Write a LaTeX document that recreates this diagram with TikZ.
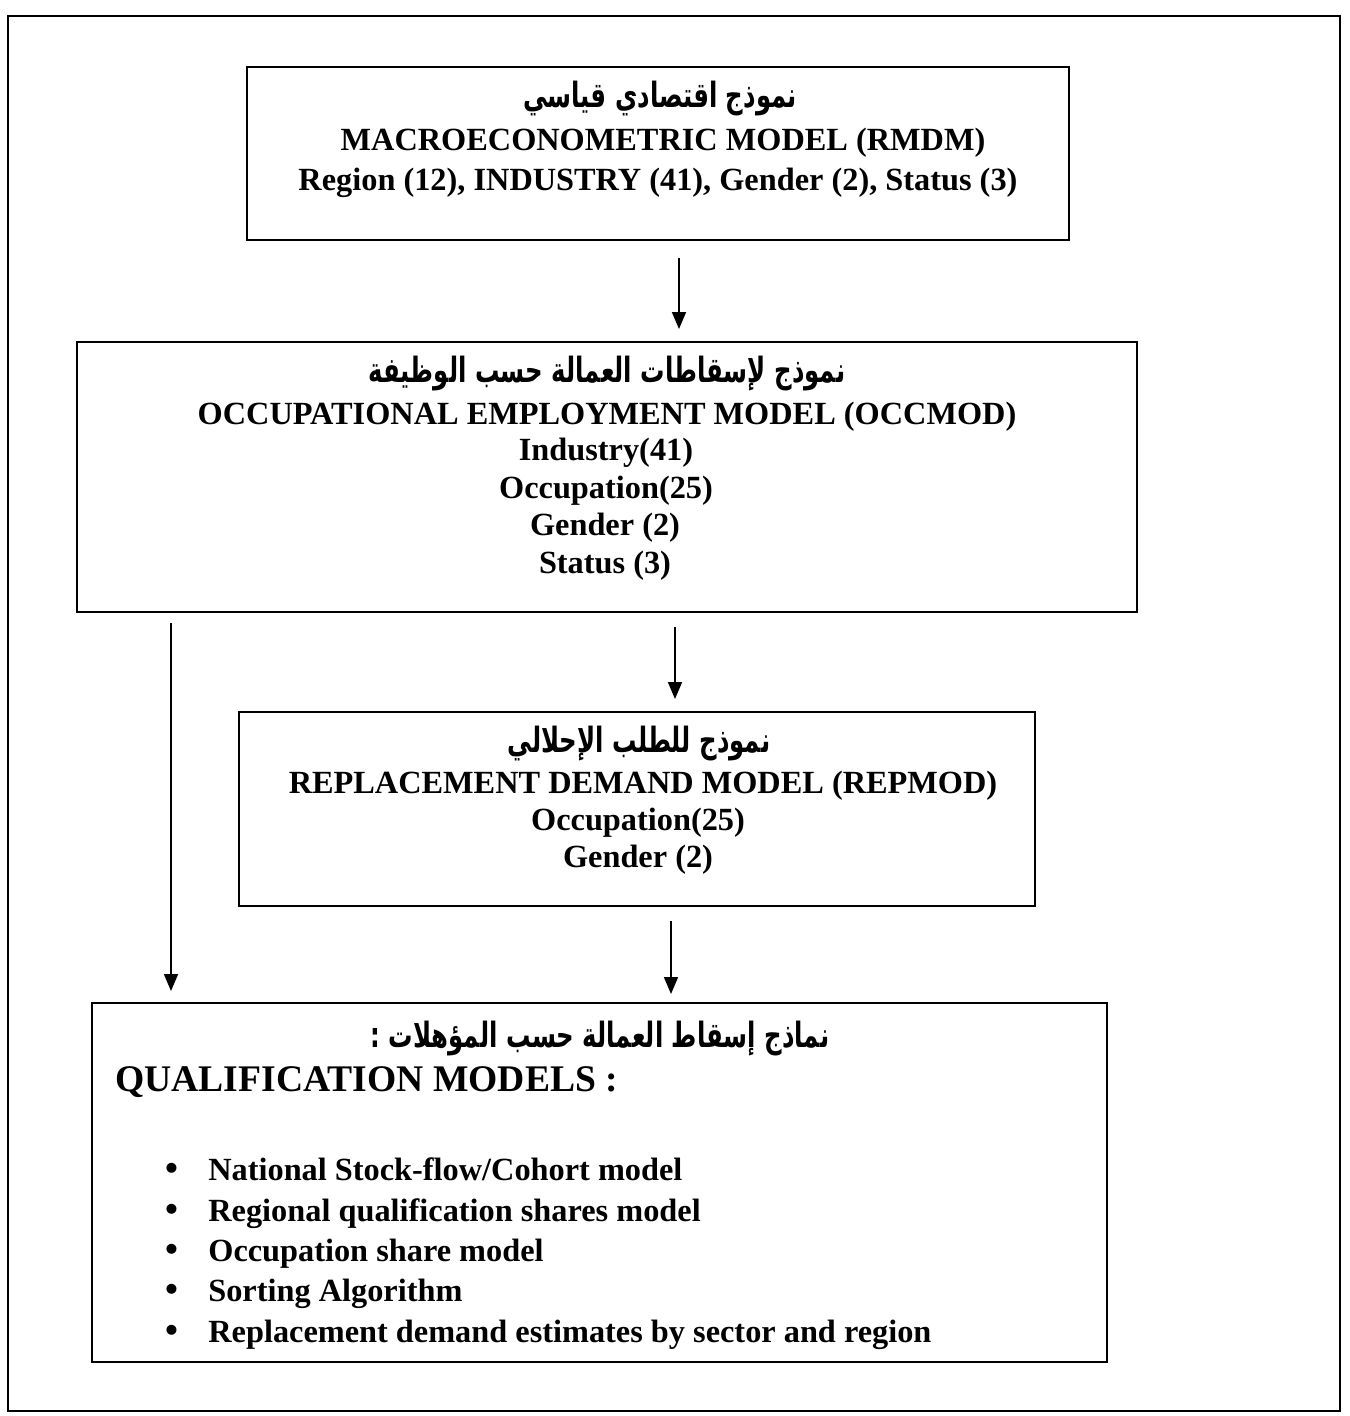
\documentclass[tikz,border=0pt]{standalone}
\usepackage{fontspec}
\setmainfont{Liberation Serif}
\newfontfamily\arabicfont[Script=Arabic]{DejaVu Sans}
\TeXXeTstate=1
\usetikzlibrary{fit,arrows.meta}
% Arabic headings: bold, condensed
\newcommand{\artitle}[1]{\scalebox{0.7}[1]{\beginR #1\endR}}
\tikzset{
  box/.style={draw, line width=1.1pt, inner sep=0pt},
  arr/.style={line width=0.9pt, -{Triangle[length=3.4mm,width=2.8mm]}},
  en/.style={font=\bfseries\fontsize{18.4}{22}\selectfont, inner sep=0pt},
  big/.style={font=\bfseries\fontsize{21.4}{26}\selectfont, inner sep=0pt},
  ar/.style={font=\arabicfont\bfseries\fontsize{19.8}{24}\selectfont, inner sep=0pt},
  dot/.style={font=\bfseries\fontsize{21}{24}\selectfont, inner sep=0pt, anchor=base},
}
\begin{document}
\begin{tikzpicture}[x=0.02cm,y=-0.02cm]
\useasboundingbox (0,0) rectangle (1349,1416);

% outer frame
\node[box, fit={(8,16) (1340,1411)}] (frame) {};

% the four model boxes
\node[box, fit={(247,67) (1069,240)}] (b1) {};
\node[box, fit={(77,342) (1137,612)}] (b2) {};
\node[box, fit={(239,712) (1035,906)}] (b3) {};
\node[box, fit={(92,1003) (1107,1362)}] (b4) {};

% macroeconometric model
\node[ar] (t1a) at (660,99) {\artitle{نموذج اقتصادي قياسي}};
\node[en] (t1b) at (663,143) {MACROECONOMETRIC MODEL (RMDM)};
\node[en] (t1c) at (658,183) {Region (12), INDUSTRY (41), Gender (2), Status (3)};

% occupational employment model
\node[ar] (t2a) at (607,374) {\artitle{نموذج لإسقاطات العمالة حسب الوظيفة}};
\node[en] (t2b) at (607,417) {OCCUPATIONAL EMPLOYMENT MODEL (OCCMOD)};
\node[en] (t2c) at (606,453) {Industry(41)};
\node[en] (t2d) at (606,491) {Occupation(25)};
\node[en] (t2e) at (605,528) {Gender (2)};
\node[en] (t2f) at (605,566) {Status (3)};

% replacement demand model
\node[ar] (t3a) at (639,744) {\artitle{نموذج للطلب الإحلالي}};
\node[en] (t3b) at (643,786) {REPLACEMENT DEMAND MODEL (REPMOD)};
\node[en] (t3c) at (638,823) {Occupation(25)};
\node[en] (t3d) at (638,860) {Gender (2)};

% qualification models
\node[ar] (t4a) at (600,1039) {\artitle{نماذج إسقاط العمالة حسب المؤهلات :}};
\node[big, anchor=west] (t4b) at (115,1082) {QUALIFICATION MODELS :};
\foreach \y/\txt [count=\i] in {
  1180/{National Stock-flow/Cohort model},
  1221/{Regional qualification shares model},
  1261/{Occupation share model},
  1301/{Sorting Algorithm},
  1342/{Replacement demand estimates by sector and region}}{
  \node[dot] (d\i) at (172,\y) {\textbullet};
  \node[en, anchor=base west] (q\i) at (208,\y) {\txt};
}

% x positions of the connectors
\coordinate (xa) at (679,0);
\coordinate (xb) at (675,0);
\coordinate (xc) at (171,0);
\coordinate (xd) at (671,0);

% connectors
\draw[arr, shorten <=0.34cm, shorten >=0.24cm] (b1.south -| xa) -- (b2.north -| xa);
\draw[arr, shorten <=0.28cm, shorten >=0.24cm] (b2.south -| xb) -- (b3.north -| xb);
\draw[arr, shorten <=0.2cm, shorten >=0.22cm] (b2.south -| xc) -- (b4.north -| xc);
\draw[arr, shorten <=0.28cm, shorten >=0.16cm] (b3.south -| xd) -- (b4.north -| xd);
\end{tikzpicture}
\end{document}
